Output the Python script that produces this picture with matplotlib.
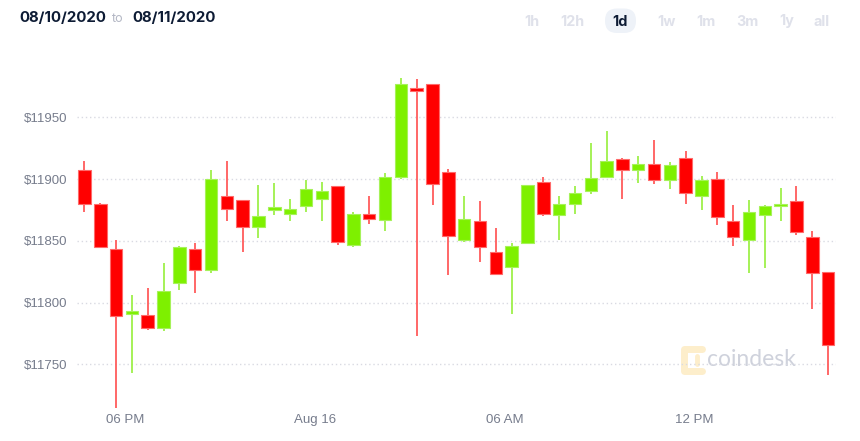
import numpy as np
import matplotlib
matplotlib.use('Agg')
import matplotlib.pyplot as plt
from matplotlib.patches import FancyBboxPatch

#### Data (30 min candles) ####
opens = [11907, 11880, 11843, 11791, 11790, 11779, 11816, 11843, 11826, 11886,
         11883, 11861, 11875, 11872, 11878, 11884, 11894, 11847, 11872, 11867,
         11902, 11973.5, 11977, 11906, 11851, 11866, 11841, 11829, 11848, 11898,
         11871, 11880, 11890, 11902, 11916, 11907, 11912, 11899, 11917, 11886.5,
         11900, 11866, 11851, 11871, 11878, 11882, 11853, 11825]
closes = [11880, 11845, 11789, 11793, 11779, 11809, 11845, 11826, 11900, 11876,
          11861, 11870, 11877, 11876, 11892, 11890, 11849, 11872, 11868, 11902,
          11977, 11971, 11896, 11854, 11868, 11845, 11823, 11846, 11895, 11872,
          11880, 11889, 11901, 11915, 11907, 11912, 11899, 11911, 11889, 11899,
          11869, 11853, 11873, 11878, 11880, 11857, 11824, 11766]
highs = [11915, 11881, 11851, 11806, 11812, 11832, 11846, 11848, 11907, 11915,
         11883, 11895, 11897, 11884, 11899, 11898, 11894, 11873, 11886, 11905,
         11982, 11981, 11977, 11908, 11886, 11882, 11860, 11848, 11895, 11902,
         11886, 11894, 11929, 11939, 11917, 11919, 11932, 11914, 11923, 11902.5,
         11906, 11879, 11883, 11879, 11893, 11894, 11858, 11825]
lows = [11873, 11844, 11715, 11743, 11778, 11777, 11810, 11808, 11824, 11866,
        11841, 11852, 11871, 11866, 11873, 11866, 11847, 11845, 11864, 11858,
        11900, 11773, 11879, 11822, 11849, 11833, 11822, 11791, 11848, 11870,
        11851, 11872, 11888, 11902, 11884, 11897, 11896, 11892, 11880, 11875,
        11863, 11846, 11824, 11828, 11866, 11855, 11795, 11741]

y_ticks = [11750, 11800, 11850, 11900, 11950]
x_tick_pos = [2.55, 14.55, 26.55, 38.55]
x_tick_labels = ['06 PM', 'Aug 16', '06 AM', '12 PM']

date_from = '08/10/2020'
date_to = '08/11/2020'
ranges = ['1h', '12h', '1d', '1w', '1m', '3m', '1y', 'all']
range_x = [532, 572, 620, 666, 706, 747, 787, 822]   # pixel centres
ACTIVE = '1d'

#### Style ####
GREEN, GREEN_EDGE, GREEN_WICK = '#7ef000', '#a6f25a', '#9ef04a'
RED, RED_EDGE, RED_WICK = '#ff0000', '#ff6a6a', '#ff5c5c'
NAVY = '#0d1b34'
TICK_GRAY = '#767c8c'
W, H = 860, 441


def plot_candles():
    fig = plt.figure(figsize=(W / 100, H / 100), dpi=100)

    # overlay in pixel coords for header / watermark
    over = fig.add_axes([0, 0, 1, 1], zorder=0)
    over.set_xlim(0, W)
    over.set_ylim(H, 0)
    over.axis('off')

    over.text(19, 18, date_from, fontsize=10.8, fontweight='bold', color=NAVY,
              family='Inter', va='center', ha='left')
    over.text(112, 19, 'to', fontsize=9, color='#b3b7c4', family='Inter',
              va='center', ha='left')
    over.text(132, 18, date_to, fontsize=10.8, fontweight='bold', color=NAVY,
              family='Inter', va='center', ha='left')

    for lab, xc in zip(ranges, range_x):
        if lab == ACTIVE:
            pill = FancyBboxPatch((605, 8.5), 31, 24.5,
                                  boxstyle='round,pad=0,rounding_size=12',
                                  fc='#eef2f8', ec='none')
            over.add_patch(pill)
            col = NAVY
        else:
            col = '#dfe1ea'
        over.text(xc, 21.5, lab, fontsize=10.3, fontweight='bold', color=col,
                  family='Inter', va='center', ha='center')

    # coindesk watermark
    logo = '#fdeecb'
    over.plot([702, 684, 684, 702], [349, 349, 371, 371], color=logo, lw=5,
              solid_capstyle='round', solid_joinstyle='round')
    over.plot([697, 697], [356, 364], color=logo, lw=3.5, solid_capstyle='round')
    over.text(707, 359, 'coindesk', fontsize=16.5, color='#cfd2dc',
              family='Lato', va='center', ha='left')

    # main chart
    ax = fig.add_axes([77 / W, (H - 410) / H, (836 - 77) / W, 350 / H], zorder=1)
    ax.patch.set_alpha(0)

    x = np.arange(len(opens))
    o = np.array(opens, dtype=float)
    c = np.array(closes, dtype=float)
    up = c >= o
    bottom = np.minimum(o, c)
    height = np.maximum(np.abs(c - o), 1.8)

    ax.vlines(x[up], np.array(lows)[up], np.array(highs)[up],
              color=GREEN_WICK, lw=1.3, zorder=2)
    ax.vlines(x[~up], np.array(lows)[~up], np.array(highs)[~up],
              color=RED_WICK, lw=1.3, zorder=2)
    ax.bar(x[up], height[up], 0.79, bottom=bottom[up], color=GREEN,
           edgecolor=GREEN_EDGE, linewidth=0.8, zorder=3)
    ax.bar(x[~up], height[~up], 0.79, bottom=bottom[~up], color=RED,
           edgecolor=RED_EDGE, linewidth=0.8, zorder=3)

    ax.set_xlim(-0.47, 47.5)
    ax.set_ylim(11713, 11996.4)

    ax.set_yticks(y_ticks)
    ax.set_yticklabels(['$' + str(v) for v in y_ticks])
    ax.set_xticks(x_tick_pos)
    ax.set_xticklabels(x_tick_labels)
    ax.tick_params(axis='y', length=0, pad=6.7, labelsize=9.5,
                   labelcolor=TICK_GRAY)
    ax.tick_params(axis='x', length=0, pad=3, labelsize=9.5,
                   labelcolor=TICK_GRAY)
    for lab in ax.get_xticklabels() + ax.get_yticklabels():
        lab.set_family('Liberation Sans')

    ax.yaxis.grid(True, color='#d9dae2', linestyle=(0, (1, 2)), linewidth=1,
                  zorder=0)
    ax.set_axisbelow(True)
    for s in ax.spines.values():
        s.set_visible(False)

    fig.savefig('out.png', dpi=100, facecolor='white')


if __name__ == "__main__":
    plot_candles()
